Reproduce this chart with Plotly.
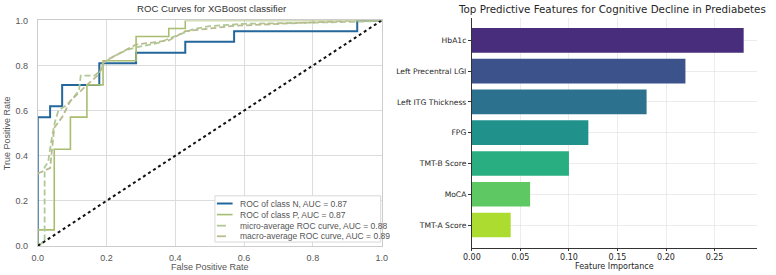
import plotly.graph_objects as go

# ---------------- ROC data ----------------
roc_n_fpr = [0, 0, 0.036, 0.036, 0.071, 0.071, 0.179, 0.179, 0.286, 0.286, 0.429, 0.429, 0.571, 0.571, 0.929, 0.929, 1.0]
roc_n_tpr = [0, 0.571, 0.571, 0.619, 0.619, 0.714, 0.714, 0.810, 0.810, 0.857, 0.857, 0.905, 0.905, 0.952, 0.952, 1.0, 1.0]

roc_p_fpr = [0, 0, 0.048, 0.048, 0.095, 0.095, 0.143, 0.143, 0.190, 0.190, 0.286, 0.286, 0.381, 0.381, 0.429, 0.429, 1.0]
roc_p_tpr = [0, 0.071, 0.071, 0.429, 0.429, 0.571, 0.571, 0.714, 0.714, 0.821, 0.821, 0.929, 0.929, 0.964, 0.964, 1.0, 1.0]

micro_fpr = [0, 0.020, 0.020, 0.030, 0.040, 0.050, 0.060, 0.080, 0.100, 0.120, 0.125, 0.165, 0.185, 0.190, 0.220, 0.260, 0.300, 0.350, 0.400, 0.450, 0.500, 0.600, 0.800, 0.950, 1.0]
micro_tpr = [0, 0.020, 0.350, 0.370, 0.470, 0.550, 0.600, 0.620, 0.650, 0.690, 0.755, 0.755, 0.780, 0.810, 0.840, 0.870, 0.885, 0.900, 0.930, 0.960, 0.975, 0.985, 0.990, 0.995, 1.0]

macro_fpr = [0, 0.036, 0.048, 0.071, 0.095, 0.143, 0.179, 0.190, 0.286, 0.381, 0.429, 0.571, 0.929, 1.0]
macro_tpr = [0.321, 0.345, 0.524, 0.571, 0.643, 0.714, 0.762, 0.815, 0.893, 0.911, 0.952, 0.976, 1.0, 1.0]

chance_x = [0, 1]
chance_y = [0, 1]

roc_names = ["ROC of class N, AUC = 0.87", "ROC of class P, AUC = 0.87",
             "micro-average ROC curve, AUC = 0.88", "macro-average ROC curve, AUC = 0.89"]
roc_colors = ["#24679a", "#a8bd70", "#afc996", "#b9bb8e"]
roc_widths = [2, 1.6, 1.8, 1.8]
roc_dashes = ["solid", "solid", "6px,3px", "6px,3px"]

roc_ticks = [0.0, 0.2, 0.4, 0.6, 0.8, 1.0]
roc_ticklabels = ["0.0", "0.2", "0.4", "0.6", "0.8", "1.0"]

# ---------------- Feature importance data ----------------
features = ["HbA1c", "Left Precentral LGI", "Left ITG Thickness", "FPG", "TMT-B Score", "MoCA", "TMT-A Score"]
importance = [0.28, 0.22, 0.18, 0.12, 0.10, 0.06, 0.04]
bar_colors = ["#472d7b", "#3b528b", "#2c728e", "#21918c", "#28ae80", "#5ec962", "#addc30"]
fi_ticks = [0.0, 0.05, 0.10, 0.15, 0.20, 0.25]
fi_ticklabels = ["0.00", "0.05", "0.10", "0.15", "0.20", "0.25"]

W, H = 776, 275
fig = go.Figure()

roc_series = [(roc_n_fpr, roc_n_tpr), (roc_p_fpr, roc_p_tpr), (micro_fpr, micro_tpr), (macro_fpr, macro_tpr)]
for (xs, ys), nm, c, w, d in zip(roc_series, roc_names, roc_colors, roc_widths, roc_dashes):
    fig.add_trace(go.Scatter(x=xs, y=ys, mode="lines", name=nm, showlegend=False,
                             line=dict(color=c, width=w, dash=d), xaxis="x", yaxis="y"))
fig.add_trace(go.Scatter(x=chance_x, y=chance_y, mode="lines", showlegend=False,
                         line=dict(color="#111111", width=2, dash="dot"), xaxis="x", yaxis="y"))

fig.add_trace(go.Bar(x=importance, y=features, orientation="h", marker=dict(color=bar_colors, line=dict(width=0)),
                     width=0.8, showlegend=False, xaxis="x2", yaxis="y2"))

def px_x(p):
    return p / W

def px_y(p):
    return 1 - p / H

grey = "#555555"
fig.update_layout(
    width=W, height=H,
    margin=dict(l=0, r=0, t=0, b=0),
    paper_bgcolor="white", plot_bgcolor="white",
    showlegend=False,
    font=dict(family="Liberation Sans, Arial, sans-serif", size=9, color=grey),
    xaxis=dict(domain=[px_x(29.3), px_x(380)], range=[0, 1], tickvals=roc_ticks, ticktext=roc_ticklabels,
               showgrid=True, gridcolor="#dcdcdc", gridwidth=1, zeroline=False,
               showline=True, linecolor="#cccccc", linewidth=1, mirror=True, ticks="",
               ticklabelstandoff=3, tickfont=dict(size=9, color=grey)),
    yaxis=dict(domain=[px_y(250), px_y(16)], range=[0, 1], tickvals=roc_ticks, ticktext=roc_ticklabels,
               showgrid=True, gridcolor="#dcdcdc", gridwidth=1, zeroline=False,
               showline=True, linecolor="#cccccc", linewidth=1, mirror=True, ticks="",
               ticklabelstandoff=7, tickfont=dict(size=9, color=grey), anchor="x"),
    xaxis2=dict(domain=[px_x(472), px_x(763)], range=[0, 0.294], tickvals=fi_ticks, ticktext=fi_ticklabels,
                showgrid=True, gridcolor="rgba(200,200,200,0.35)", gridwidth=1, zeroline=False,
                showline=True, linecolor="#333333", linewidth=1, ticks="outside", ticklen=2,
                tickcolor="#333333", layer="above traces", ticklabelstandoff=0,
                tickfont=dict(family="DejaVu Sans", size=8, color="#262626"), anchor="y2"),
    yaxis2=dict(domain=[px_y(252), px_y(13)], range=[6.74, -0.74], type="category",
                categoryorder="array", categoryarray=features,
                showgrid=True, gridcolor="rgba(200,200,200,0.35)", gridwidth=1, zeroline=False,
                showline=True, linecolor="#333333", linewidth=1, ticks="outside", ticklen=3,
                tickcolor="#333333", layer="above traces",
                tickfont=dict(family="DejaVu Sans", size=7.6, color="#262626"), anchor="x2"),
    bargap=0.2,
)

# ---- compact legend box (matplotlib-style) ----
leg_left, leg_right, leg_top, leg_bottom = 210, 379, 198, 246
leg_rows = [206, 217.5, 229, 240]
fig.add_shape(type="rect", xref="paper", yref="paper", x0=px_x(leg_left), x1=px_x(leg_right),
              y0=px_y(leg_bottom), y1=px_y(leg_top), line=dict(color="#d8d8d8", width=1), fillcolor="white",
              layer="above")
for row, nm, c, w, d in zip(leg_rows, roc_names, roc_colors, roc_widths, roc_dashes):
    fig.add_shape(type="line", xref="paper", yref="paper", x0=px_x(leg_left + 2), x1=px_x(leg_left + 18),
                  y0=px_y(row), y1=px_y(row), line=dict(color=c, width=w, dash=("dash" if d != "solid" else "solid")),
                  layer="above")
    fig.add_annotation(text=nm, x=px_x(leg_left + 24), y=px_y(row), xref="paper", yref="paper",
                       showarrow=False, xanchor="left", yanchor="middle",
                       font=dict(size=8.5, color=grey))

fig.add_annotation(text="ROC Curves for XGBoost classifier", x=px_x(207), y=px_y(4), xref="paper", yref="paper",
                   showarrow=False, font=dict(size=9.6, color="#333333"), xanchor="center", yanchor="middle")
fig.add_annotation(text="False Positive Rate", x=px_x(205), y=px_y(272), xref="paper", yref="paper",
                   showarrow=False, font=dict(size=9, color=grey), xanchor="center", yanchor="middle")
fig.add_annotation(text="True Positive Rate", x=px_x(-2), y=px_y(133), xref="paper", yref="paper", textangle=-90,
                   showarrow=False, font=dict(size=9, color=grey), xanchor="center", yanchor="middle")
fig.add_annotation(text="Top Predictive Features for Cognitive Decline in Prediabetes", x=px_x(615), y=px_y(4),
                   xref="paper", yref="paper", showarrow=False,
                   font=dict(family="DejaVu Sans", size=10.3, color="#262626"), xanchor="center", yanchor="middle")
fig.add_annotation(text="Feature Importance", x=px_x(617), y=px_y(271), xref="paper", yref="paper",
                   showarrow=False, font=dict(family="DejaVu Sans", size=8, color="#262626"),
                   xanchor="center", yanchor="middle")

fig.write_html("out.html")
